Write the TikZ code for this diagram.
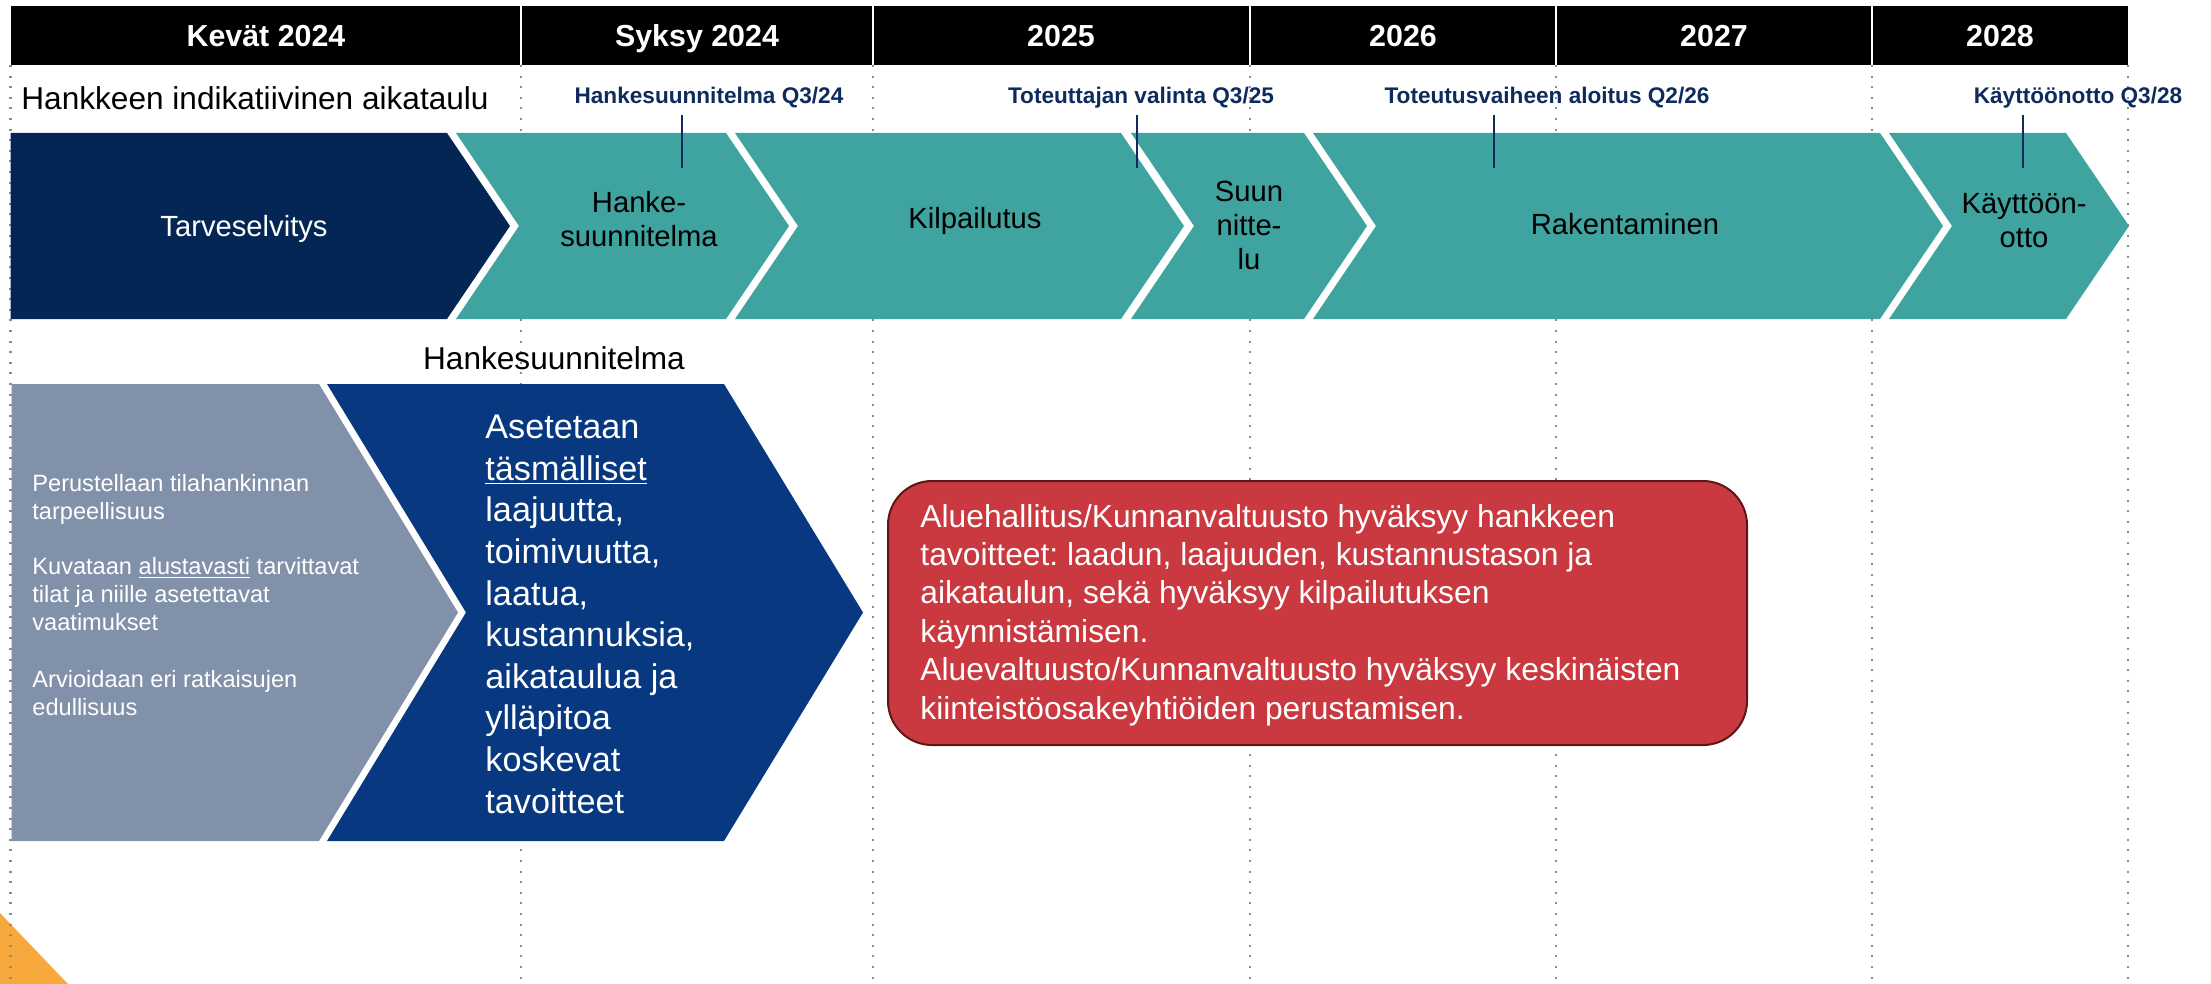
\documentclass[tikz,border=0pt]{standalone}
\usepackage{fontspec}
\setmainfont{Liberation Sans}
\frenchspacing
\definecolor{navydark}{HTML}{042654}
\definecolor{teal}{HTML}{3FA3A0}
\definecolor{grayblue}{HTML}{8291AA}
\definecolor{navy}{HTML}{08387F}
\definecolor{msnavy}{HTML}{0D2B5C}
\definecolor{redbox}{HTML}{C9393F}
\definecolor{redborder}{HTML}{5E1616}
\definecolor{orange}{HTML}{F7A93D}
\definecolor{dotgray}{HTML}{8C8C8C}
\newcommand{\chevshape}[7]{%
  \path[#1] (#2,#4) -- (#3,#4) -- ({#3+#6},{(#4+#5)/2}) -- (#3,#5) -- (#2,#5) -- ({#2+#7},{(#4+#5)/2}) -- cycle;}
\tikzset{
  dotline/.style={draw=dotgray, line width=1.2pt, dash pattern=on 1pt off 4.3pt},
  hdrtext/.style={text=white, font=\bfseries\fontsize{15.2}{18}\selectfont, anchor=base, inner sep=0},
  mstext/.style={text=msnavy, font=\bfseries\fontsize{11.3}{14}\selectfont, anchor=base, inner sep=0},
  mstick/.style={draw=msnavy, line width=0.8pt},
  chevtext/.style={font=\fontsize{14.6}{17}\selectfont, align=center, anchor=base, inner sep=0},
  toptitle/.style={font=\fontsize{15.8}{18}\selectfont, anchor=base west, inner sep=0},
}
\begin{document}
\begin{tikzpicture}[x=0.5pt,y=-0.5pt]
\useasboundingbox (0,0) rectangle (2211,984);
% orange corner
\fill[orange] (0,913) -- (68,984) -- (0,984) -- cycle;
% dotted grid
\foreach \x in {10.5,521,873,1250,1556,1872,2128}
  \draw[dotline] (\x,65) -- (\x,984);
% header
\fill[black] (10.5,6) rectangle (2128,65);
\foreach \x in {521,873,1250,1556,1872}
  \draw[white, line width=1pt] (\x,6) -- (\x,65);
\node[hdrtext] (h1) at (266,47) {Kevät 2024};
\node[hdrtext] (h2) at (697,47) {Syksy 2024};
\node[hdrtext] (h3) at (1061,47) {2025};
\node[hdrtext] (h4) at (1403,47) {2026};
\node[hdrtext] (h5) at (1714,47) {2027};
\node[hdrtext] (h6) at (2000,47) {2028};
% title
\node[toptitle] (title) at (21,110) {Hankkeen indikatiivinen aikataulu};
% chevrons row
\chevshape{fill=navydark}{10.5}{447}{133}{319}{63}{0}
\chevshape{fill=teal}{456}{726}{133}{319}{63}{63}
\chevshape{fill=teal}{735}{1121}{133}{319}{63}{63}
\chevshape{fill=teal}{1131}{1304}{133}{319}{63}{63}
\chevshape{fill=teal}{1313}{1880}{133}{319}{63}{63}
\chevshape{fill=teal}{1889}{2066}{133}{319}{63}{63}
\node[chevtext, text=white] (c1) at (244,237) {Tarveselvitys};
\node[chevtext] (c2) at (639,247) {Hanke-\\suunnitelma};
\node[chevtext] (c3) at (975,229) {Kilpailutus};
\node[chevtext] (c4) at (1249,270) {Suun\\nitte-\\lu};
\node[chevtext] (c5) at (1625,235) {Rakentaminen};
\node[chevtext] (c6) at (2024,248) {Käyttöön-\\otto};
% milestones
\node[mstext] (m1) at (709,104) {Hankesuunnitelma Q3/24};
\node[mstext] (m2) at (1141,104) {Toteuttajan valinta Q3/25};
\node[mstext] (m3) at (1547,104) {Toteutusvaiheen aloitus Q2/26};
\node[mstext] (m4) at (2078,104) {Käyttöönotto Q3/28};
\coordinate (t1a) at (682,115); \coordinate (t1b) at (682,168);
\coordinate (t2a) at (1137,115); \coordinate (t2b) at (1137,168);
\coordinate (t3a) at (1494,115); \coordinate (t3b) at (1494,168);
\coordinate (t4a) at (2023,115); \coordinate (t4b) at (2023,168);
\draw[mstick] (t1a) -- (t1b);
\draw[mstick] (t2a) -- (t2b);
\draw[mstick] (t3a) -- (t3b);
\draw[mstick] (t4a) -- (t4b);
% lower section
\node[font=\fontsize{15.8}{18}\selectfont, anchor=base, inner sep=0] (hs) at (554,369) {Hankesuunnitelma};
\chevshape{fill=grayblue}{11.5}{319}{384}{841}{139}{0}
\chevshape{fill=navy}{327}{724}{384}{841}{139}{139}
\node[text=white, font=\fontsize{11.8}{14}\selectfont, align=left, anchor=base west, inner sep=0] (gt) at (32,715)
  {Perustellaan tilahankinnan\\tarpeellisuus\\[13.5pt]
   Kuvataan \underline{alustavasti} tarvittavat\\tilat ja niille asetettavat\\vaatimukset\\[14.5pt]
   Arvioidaan eri ratkaisujen\\edullisuus};
\node[text=white, font=\fontsize{17.1}{20.8}\selectfont, align=left, anchor=base west, inner sep=0] (nt) at (485,813)
  {Asetetaan\\\underline{täsmälliset}\\laajuutta,\\toimivuutta,\\laatua,\\kustannuksia,\\aikataulua ja\\ylläpitoa\\koskevat\\tavoitteet};
% red box
\path[fill=redbox, draw=redborder, line width=1pt, rounded corners=22pt] (888,481) rectangle (1747,745);
\node[text=white, font=\fontsize{15.9}{19.2}\selectfont, align=left, anchor=base west, inner sep=0] (rt) at (920,719)
  {Aluehallitus/Kunnanvaltuusto hyväksyy hankkeen\\tavoitteet: laadun, laajuuden, kustannustason ja\\aikataulun, sekä hyväksyy kilpailutuksen\\käynnistämisen.\\Aluevaltuusto/Kunnanvaltuusto hyväksyy keskinäisten\\kiinteistöosakeyhtiöiden perustamisen.};
\end{tikzpicture}
\end{document}
